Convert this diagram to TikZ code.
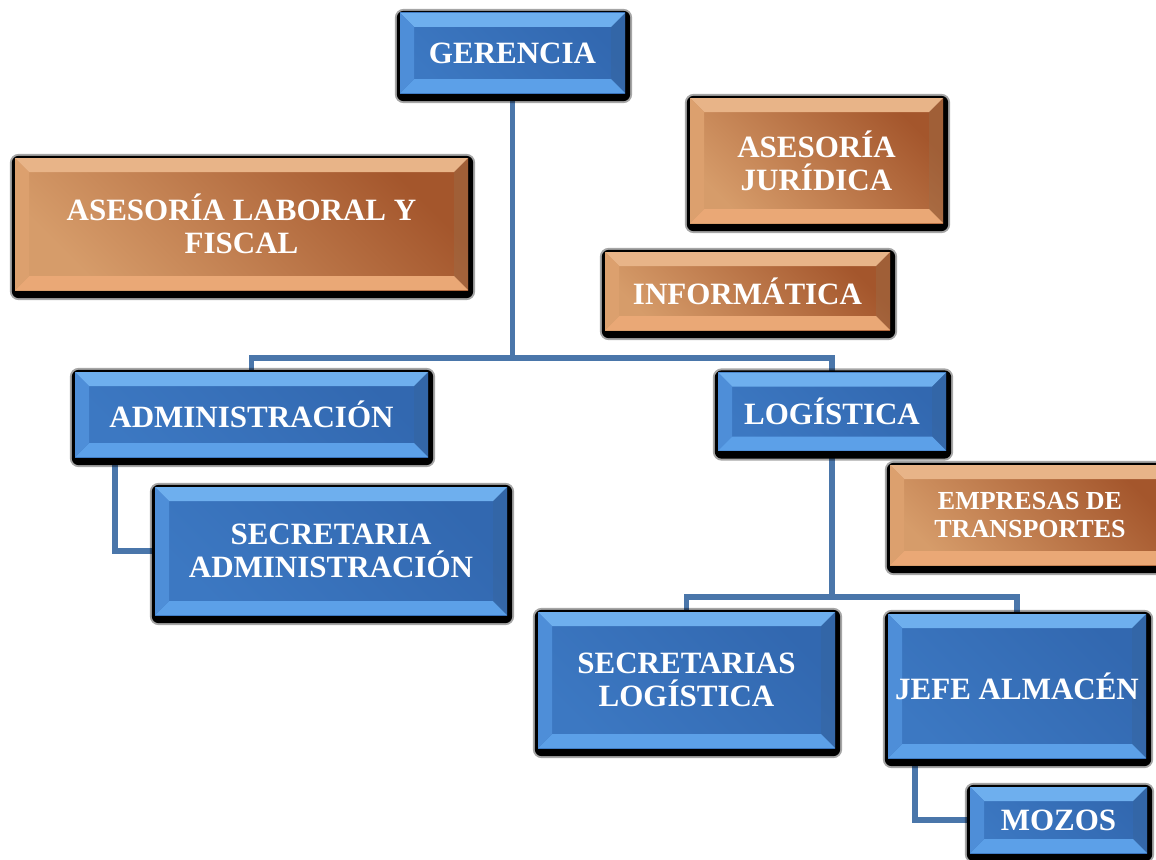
\documentclass[tikz,border=0pt]{standalone}
\usepackage{fontspec}
\setmainfont{Liberation Serif}
\usetikzlibrary{calc}
\pgfdeclarelayer{background}
\pgfdeclarelayer{shadow}
\pgfsetlayers{background,shadow,main}

% colours of the blue and copper bevelled buttons
\definecolor{connblue}{RGB}{74,118,170}
\definecolor{bface}{RGB}{60,120,194}
\definecolor{bfacedk}{RGB}{50,104,176}
\definecolor{btop}{RGB}{110,175,238}
\definecolor{bbot}{RGB}{92,160,232}
\definecolor{bleft}{RGB}{78,142,216}
\definecolor{bright}{RGB}{52,108,182}
\definecolor{oface}{RGB}{214,156,106}
\definecolor{ofacedk}{RGB}{164,86,44}
\definecolor{otop}{RGB}{232,180,136}
\definecolor{obot}{RGB}{234,168,118}
\definecolor{oleft}{RGB}{220,160,110}
\definecolor{oright}{RGB}{170,92,50}

\newcommand{\bevelw}{14}

\tikzset{
  conn/.style={draw=connblue, line width=5.5pt},
  button/.style={rectangle, inner sep=0pt, align=center, text=white,
    font=\bfseries\fontsize{31}{33}\selectfont},
  bevel/.style n args={5}{path picture={
    \coordinate (pnw) at (path picture bounding box.north west);
    \coordinate (pne) at (path picture bounding box.north east);
    \coordinate (psw) at (path picture bounding box.south west);
    \coordinate (pse) at (path picture bounding box.south east);
    \fill[left color=#1, right color=#2, shading angle=135] (pnw) rectangle (pse);
    \fill[#3] (pnw) -- (pne) -- ($(pne)+(-\bevelw,\bevelw)$) -- ($(pnw)+(\bevelw,\bevelw)$) -- cycle;
    \fill[#4] (psw) -- (pse) -- ($(pse)+(-\bevelw,-\bevelw)$) -- ($(psw)+(\bevelw,-\bevelw)$) -- cycle;
    \fill[#5] (pnw) -- ($(pnw)+(\bevelw,\bevelw)$) -- ($(psw)+(\bevelw,-\bevelw)$) -- (psw) -- cycle;
    \fill[#5!70!black, opacity=0.35] (pne) -- ($(pne)+(-\bevelw,\bevelw)$) -- ($(pse)+(-\bevelw,-\bevelw)$) -- (pse) -- cycle;
  }},
  bluebox/.style={button, bevel={bface}{bfacedk}{btop}{bbot}{bleft}},
  copperbox/.style={button, bevel={oface}{ofacedk}{otop}{obot}{oleft}},
  boxshadow/.style={fill=black, rounded corners=7pt}
}

\begin{document}
\begin{tikzpicture}[x=1pt, y=-1pt]
\useasboundingbox (0,0) rectangle (1156,859);

% top level
\node[bluebox, minimum width=225, minimum height=80] (ger) at (512.5,53) {GERENCIA};

% advisory units
\node[copperbox, minimum width=453, minimum height=132] (alf) at (241.5,224) {ASESORÍA LABORAL Y\\FISCAL};
\node[copperbox, minimum width=253, minimum height=125] (aj) at (816.5,160.5) {ASESORÍA\\JURÍDICA};
\node[copperbox, minimum width=285, minimum height=78] (inf) at (747.5,291) {INFORMÁTICA};
\node[copperbox, minimum width=280, minimum height=100,
      font=\bfseries\fontsize{26}{28}\selectfont] (emp) at (1030,515) {EMPRESAS DE\\TRANSPORTES};

% departments
\node[bluebox, minimum width=353, minimum height=85] (adm) at (251.5,414.5) {ADMINISTRACIÓN};
\node[bluebox, minimum width=228, minimum height=78] (log) at (832,411.5) {LOGÍSTICA};
\node[bluebox, minimum width=352, minimum height=128] (sad) at (331,551) {SECRETARIA\\ADMINISTRACIÓN};
\node[bluebox, minimum width=297, minimum height=136] (sl) at (686.5,680) {SECRETARIAS\\LOGÍSTICA};
\node[bluebox, minimum width=258, minimum height=144] (ja) at (1017,686) {JEFE ALMACÉN};
\node[bluebox, minimum width=177, minimum height=66] (mz) at (1058.5,820) {MOZOS};

% drop shadows behind every button
\begin{pgfonlayer}{shadow}
  \foreach \n in {ger,alf,aj,inf,emp,adm,log,sad,sl,ja,mz}{
    \fill[black, opacity=0.35, rounded corners=9pt] ([shift={(-5,-4)}]\n.north west) rectangle ([shift={(7,10)}]\n.south east);
    \fill[boxshadow] ([shift={(-3,-2)}]\n.north west) rectangle ([shift={(5,8)}]\n.south east);
  }
\end{pgfonlayer}

% connectors
\coordinate (bus1) at (517,358);
\coordinate (bus2) at (832,597);
\begin{pgfonlayer}{background}
  \draw[conn] (ger.south) -- (ger.south |- bus1);
  \draw[conn] (adm.north) |- (bus1) -| (log.north);
  \draw[conn] ([xshift=40pt]adm.south west) |- (sad.west);
  \draw[conn] (log.south) -- (bus2);
  \draw[conn] (sl.north) |- (bus2) -| (ja.north);
  \draw[conn] ([xshift=27pt]ja.south west) |- (mz.west);
\end{pgfonlayer}
\end{tikzpicture}
\end{document}
